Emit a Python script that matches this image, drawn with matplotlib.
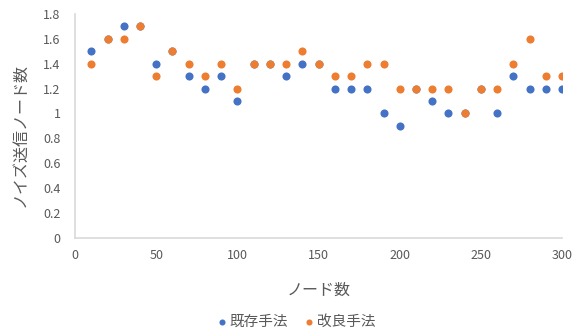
import matplotlib
matplotlib.use("Agg")
import matplotlib.pyplot as plt

plt.rcParams['font.family'] = ['Noto Sans CJK JP', 'DejaVu Sans']

nodes = [10, 20, 30, 40, 50, 60, 70, 80, 90, 100,
         110, 120, 130, 140, 150, 160, 170, 180, 190, 200,
         210, 220, 230, 240, 250, 260, 270, 280, 290, 300]
existing = [1.5, 1.6, 1.7, 1.7, 1.4, 1.5, 1.3, 1.2, 1.3, 1.1,
            1.4, 1.4, 1.3, 1.4, 1.4, 1.2, 1.2, 1.2, 1.0, 0.9,
            1.2, 1.1, 1.0, 1.0, 1.2, 1.0, 1.3, 1.2, 1.2, 1.2]
improved = [1.4, 1.6, 1.6, 1.7, 1.3, 1.5, 1.4, 1.3, 1.4, 1.2,
            1.4, 1.4, 1.4, 1.5, 1.4, 1.3, 1.3, 1.4, 1.4, 1.2,
            1.2, 1.2, 1.2, 1.0, 1.2, 1.2, 1.4, 1.6, 1.3, 1.3]
series_names = ['既存手法', '改良手法']
x_ticks = [0, 50, 100, 150, 200, 250, 300]
y_ticks = [0, 0.2, 0.4, 0.6, 0.8, 1.0, 1.2, 1.4, 1.6, 1.8]

blue = '#4472C4'
orange = '#ED7D31'
text_gray = '#595959'
axis_gray = '#D9D9D9'

fig = plt.figure(figsize=(5.73, 3.31), dpi=100)
ax = fig.add_axes([0.131, 0.281, 0.850, 0.677])

ax.scatter(nodes, existing, s=34, color=blue, label=series_names[0], zorder=3, linewidths=0)
ax.scatter(nodes, improved, s=34, color=orange, label=series_names[1], zorder=4, linewidths=0)

ax.set_xlim(0, 300)
ax.set_ylim(0, 1.8)
ax.set_xticks(x_ticks)
ax.set_yticks(y_ticks)
ax.set_yticklabels(['{:g}'.format(v) for v in y_ticks])

for side in ['top', 'right']:
    ax.spines[side].set_visible(False)
for side in ['left', 'bottom']:
    ax.spines[side].set_color(axis_gray)
    ax.spines[side].set_linewidth(1.2)

ax.tick_params(axis='both', length=0, labelsize=9, colors=text_gray)
ax.tick_params(axis='x', pad=8)
ax.tick_params(axis='y', pad=10.5)

ax.set_xlabel('ノード数', fontsize=11.5, color=text_gray, labelpad=14)
ax.set_ylabel('ノイズ送信ノード数', fontsize=11.5, color=text_gray)
ax.yaxis.set_label_coords(-0.096, 0.46)

leg = fig.legend(loc='center', bbox_to_anchor=(0.518, 0.027), ncol=2,
                 frameon=False, fontsize=10.5, handlelength=0.5,
                 handletextpad=0.25, columnspacing=1.2, markerscale=0.75,
                 borderpad=0, borderaxespad=0)
for t in leg.get_texts():
    t.set_color(text_gray)

fig.savefig('out.png', dpi=100)
